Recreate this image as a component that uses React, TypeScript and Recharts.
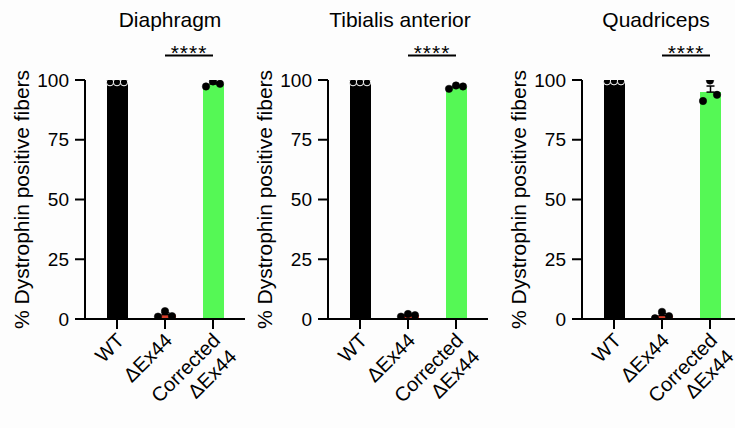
import React from 'react';
import { ComposedChart, Bar, Cell, Scatter, XAxis, YAxis, ErrorBar, ReferenceLine } from 'recharts';

const categories = ['WT', 'ΔEx44', 'Corrected ΔEx44'];
const yTicks = [0, 25, 50, 75, 100];
const panelTitles = ['Diaphragm', 'Tibialis anterior', 'Quadriceps'];
const yAxisLabel = '% Dystrophin positive fibers';
const significance = '****';
const bracketLevel = 110.2;

// replicate values (3 mice per group)
const diaphragmWT = [99.1, 99.1, 99.1];
const diaphragmDel = [1.0, 3.3, 1.2];
const diaphragmCorr = [97.3, 99.4, 98.4];

const tibialisWT = [99.1, 99.1, 99.1];
const tibialisDel = [1.0, 2.1, 1.6];
const tibialisCorr = [96.3, 97.7, 97.3];

const quadricepsWT = [99.5, 99.5, 99.5];
const quadricepsDel = [0.3, 3.0, 1.2];
const quadricepsCorr = [91.2, 99.8, 93.8];

const FONT = '"Liberation Sans", Arial, Helvetica, sans-serif';
const BAR_COLORS = ['#000000', '#d8402c', '#55f855'];
const DOT_OFFSETS = [-7, 0, 7];

const mean = (v: number[]) => v.reduce((a, b) => a + b, 0) / v.length;
const sem = (v: number[]) => {
  const m = mean(v);
  const sd = Math.sqrt(v.reduce((a, b) => a + (b - m) * (b - m), 0) / (v.length - 1));
  return sd / Math.sqrt(v.length);
};

const buildRows = (groups: number[][]) =>
  categories.map((name, i) => ({
    name,
    r1: groups[i][0],
    r2: groups[i][1],
    r3: groups[i][2],
    mean: mean(groups[i]),
    err: [0, sem(groups[i])],
  }));

const panels = [
  { title: panelTitles[0], rows: buildRows([diaphragmWT, diaphragmDel, diaphragmCorr]), left: 0, titleX: 170 },
  { title: panelTitles[1], rows: buildRows([tibialisWT, tibialisDel, tibialisCorr]), left: 243, titleX: 157 },
  { title: panelTitles[2], rows: buildRows([quadricepsWT, quadricepsDel, quadricepsCorr]), left: 497, titleX: 159 },
];

const XTick = (props: any) => {
  const { x, y, payload } = props;
  const lines = String(payload.value).split(' ');
  return (
    <g transform={`translate(${x},${y}) rotate(-45)`}>
      {lines.map((l, i) => (
        <text key={i} x={-3} y={15 + i * 23} textAnchor="end" fontSize={20} fill="#000" fontFamily={FONT}>
          {l}
        </text>
      ))}
    </g>
  );
};

const makeDot = (off: number) => (props: any) => {
  const { cx, cy, payload } = props;
  if (cx == null || cy == null) return <g />;
  const isWT = payload && payload.name === categories[0];
  return (
    <circle
      cx={cx + off}
      cy={cy}
      r={3.7}
      fill="#000"
      stroke={isWT ? '#ffffff' : '#000'}
      strokeWidth={isWT ? 1 : 0.5}
    />
  );
};

const YLabel = (p: any) => {
  const vb = p.viewBox || { x: 0, y: 80, width: 85, height: 239 };
  const cx = vb.x + 29;
  const cy = vb.y + vb.height / 2;
  return (
    <text
      x={cx}
      y={cy}
      transform={`rotate(-90 ${cx} ${cy})`}
      textAnchor="middle"
      fontSize={21}
      fill="#000"
      fontFamily={FONT}
    >
      {yAxisLabel}
    </text>
  );
};

const StarLabel = (p: any) => {
  const vb = p.viewBox || { x: 0, y: 0, width: 0, height: 0 };
  const x = vb.x + (vb.width || 0) / 2;
  return (
    <text x={x} y={vb.y + 4} textAnchor="middle" fontSize={21} letterSpacing={1} fill="#000" fontFamily={FONT}>
      {significance}
    </text>
  );
};

const axisStyle = { stroke: '#000', strokeWidth: 2 };

const Panel = ({ rows }: { rows: any[] }) => (
  <ComposedChart width={250} height={428} data={rows} margin={{ top: 80, right: 5, bottom: 0, left: 0 }}>
    <XAxis
      dataKey="name"
      type="category"
      interval={0}
      height={109}
      padding={{ left: 8, right: 8 }}
      tickSize={10}
      tickMargin={0}
      axisLine={axisStyle}
      tickLine={axisStyle}
      tick={<XTick />}
    />
    <YAxis
      type="number"
      domain={[0, 100]}
      ticks={yTicks}
      allowDataOverflow
      width={85}
      tickSize={10}
      tickMargin={6}
      axisLine={axisStyle}
      tickLine={axisStyle}
      tick={{ fontSize: 19, fill: '#000', fontFamily: FONT }}
      label={{ content: YLabel }}
    />
    <Bar dataKey="mean" barSize={21} isAnimationActive={false}>
      {rows.map((r, i) => (
        <Cell key={r.name} fill={BAR_COLORS[i]} />
      ))}
      <ErrorBar dataKey="err" width={4} stroke="#000" strokeWidth={1.5} direction="y" />
    </Bar>
    <Scatter dataKey="r1" isAnimationActive={false} shape={makeDot(DOT_OFFSETS[0])} />
    <Scatter dataKey="r2" isAnimationActive={false} shape={makeDot(DOT_OFFSETS[1])} />
    <Scatter dataKey="r3" isAnimationActive={false} shape={makeDot(DOT_OFFSETS[2])} />
    <ReferenceLine
      segment={[
        { x: categories[1], y: bracketLevel },
        { x: categories[2], y: bracketLevel },
      ]}
      stroke="#000"
      strokeWidth={2}
      ifOverflow="visible"
      label={<StarLabel />}
    />
  </ComposedChart>
);

export default function App() {
  return (
    <div style={{ position: 'absolute', left: 0, top: 0, width: 735, height: 428, background: '#fdfdfd', overflow: 'hidden' }}>
      {panels.map((p) => (
        <div key={p.title} style={{ position: 'absolute', left: p.left, top: 0, width: 250, height: 428 }}>
          <Panel rows={p.rows} />
        </div>
      ))}
      <svg width={735} height={428} style={{ position: 'absolute', left: 0, top: 0, pointerEvents: 'none' }}>
        {panels.map((p) => (
          <text key={p.title} x={p.left + p.titleX} y={27} textAnchor="middle" fontSize={21} fill="#000" fontFamily={FONT}>
            {p.title}
          </text>
        ))}
      </svg>
    </div>
  );
}
